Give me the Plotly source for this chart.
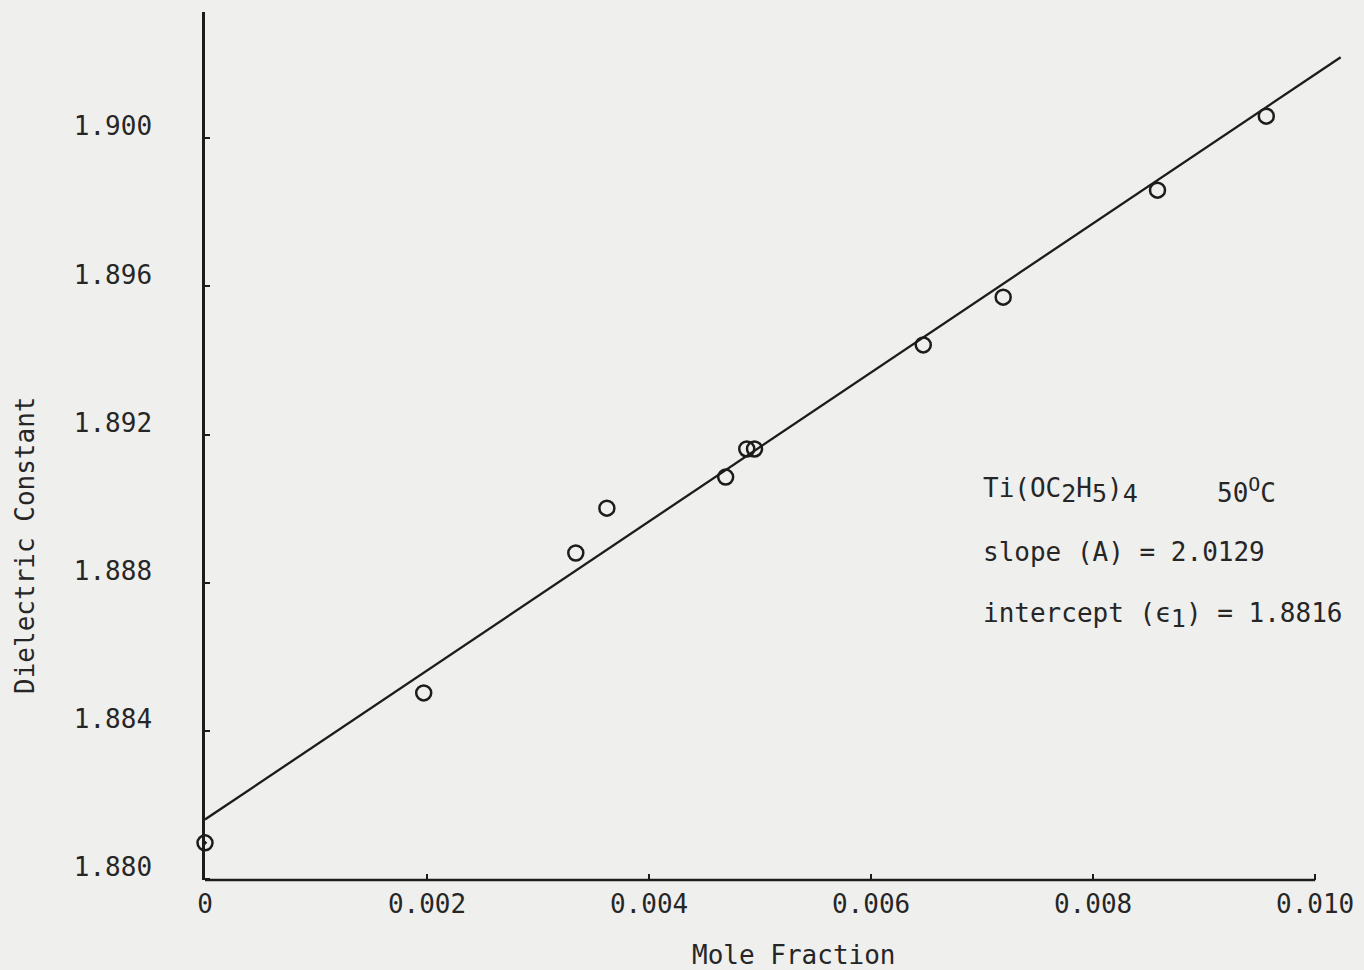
import plotly.graph_objects as go

# Measured dielectric constant vs. mole fraction of Ti(OC2H5)4 at 50 °C
mole_fraction = [0.0, 0.00197, 0.00334, 0.00362, 0.00469, 0.00488, 0.00495,
                 0.00647, 0.00719, 0.00858, 0.00956]
dielectric = [1.88097, 1.88502, 1.88880, 1.89001, 1.89085, 1.89161, 1.89161,
              1.89442, 1.89571, 1.89860, 1.90060]
symbols = ["circle-open-dot"] + ["circle-open"] * (len(mole_fraction) - 1)

# Least-squares fit parameters
slope_A = 2.0129
intercept_e1 = 1.8816
fit_x = [0.0, 0.01023]
fit_y = [intercept_e1 + slope_A * x for x in fit_x]

x_tickvals = [0, 0.002, 0.004, 0.006, 0.008, 0.010]
x_ticktext = ["0", "0.002", "0.004", "0.006", "0.008", "0.010"]
y_tickvals = [1.880, 1.884, 1.888, 1.892, 1.896, 1.900]
y_ticktext = ["1.880", "1.884", "1.888", "1.892", "1.896", "1.900"]

FONT = "DejaVu Sans Mono, Liberation Mono, monospace"
INK = "#262626"
PAPER = "#efefed"
LINE = "#1c1c1c"

fig = go.Figure()
fig.add_trace(go.Scatter(
    x=fit_x, y=fit_y, mode="lines",
    line=dict(color=LINE, width=2.3), showlegend=False, hoverinfo="skip"))
fig.add_trace(go.Scatter(
    x=mole_fraction, y=dielectric, mode="markers", cliponaxis=False,
    marker=dict(symbol=symbols, size=15, color=LINE,
                line=dict(color=LINE, width=2.5)),
    showlegend=False))

# x axis baseline stops at 0.010
fig.add_shape(type="line", xref="x", yref="paper", x0=0, x1=0.010, y0=0, y1=0,
              line=dict(color=LINE, width=2.5))

fig.update_layout(
    width=1364, height=970,
    margin=dict(l=205, r=10, t=12, b=90),
    paper_bgcolor=PAPER, plot_bgcolor=PAPER,
    font=dict(family=FONT, size=26, color=INK),
    xaxis=dict(range=[0, 0.010296], showgrid=False, zeroline=False, showline=False,
               tickvals=x_tickvals, ticktext=x_ticktext, ticks="inside",
               ticklen=6, tickwidth=2, tickcolor=LINE,
               ticklabelstandoff=6),
    yaxis=dict(range=[1.879966, 1.903413], showgrid=False, zeroline=False,
               showline=True, linecolor=LINE, linewidth=2.5,
               tickvals=y_tickvals, ticktext=y_ticktext, ticks="inside",
               ticklen=5, tickwidth=2, tickcolor=LINE,
               ticklabelstandoff=45, ticklabelshift=-12),
)

# Axis titles
fig.add_annotation(text="Dielectric Constant", xref="paper", yref="paper",
                   x=(24 - 205) / 1149, y=(880 - 545) / 868, textangle=-90,
                   showarrow=False, xanchor="center", yanchor="middle")
fig.add_annotation(text="Mole Fraction", xref="paper", yref="paper",
                   x=(797 - 205) / 1149, y=(880 - 955) / 868,
                   showarrow=False, xanchor="center", yanchor="middle")


def lowered(ch):
    # typewriter-style subscript: full-size digit dropped below the baseline
    return f'<sub><span style="font-size:25px">{ch}</span></sub>'


# Fit summary
fig.add_annotation(text=f"Ti(OC{lowered(2)}H{lowered(5)}){lowered(4)}",
                   xref="paper", yref="paper",
                   x=(985 - 205) / 1149, y=(880 - 490) / 868,
                   showarrow=False, xanchor="left", yanchor="middle")
fig.add_annotation(text='50<sup><span style="font-size:20px">O</span></sup>C',
                   xref="paper", yref="paper",
                   x=(1220 - 205) / 1149, y=(880 - 490) / 868,
                   showarrow=False, xanchor="left", yanchor="middle")
fig.add_annotation(text=f"slope (A) = {slope_A:.4f}", xref="paper", yref="paper",
                   x=(985 - 205) / 1149, y=(880 - 552) / 868,
                   showarrow=False, xanchor="left", yanchor="middle")
fig.add_annotation(text=f"intercept (ϵ{lowered(1)}) = {intercept_e1:.4f}",
                   xref="paper", yref="paper",
                   x=(985 - 205) / 1149, y=(880 - 615) / 868,
                   showarrow=False, xanchor="left", yanchor="middle")

fig.write_html("out.html")
